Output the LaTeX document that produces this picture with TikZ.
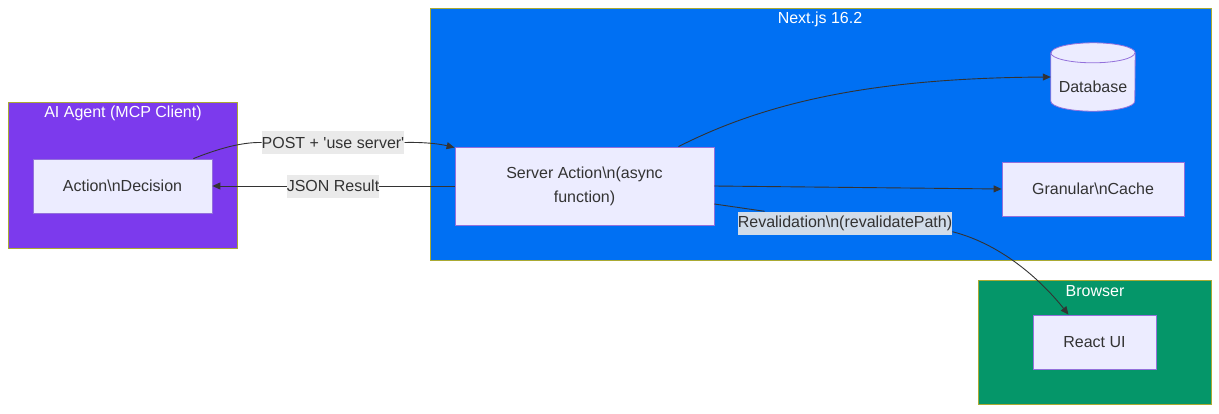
\documentclass[tikz,border=0pt]{standalone}
\usepackage{fontspec}
\setmainfont{Liberation Sans}
\usetikzlibrary{arrows.meta}
\definecolor{agentbg}{HTML}{7C3AED}
\definecolor{nextbg}{HTML}{0070F3}
\definecolor{browserbg}{HTML}{059669}
\definecolor{clborder}{HTML}{AAAA33}
\definecolor{nodebg}{HTML}{ECECFF}
\definecolor{nodeline}{HTML}{9370DB}
\definecolor{ink}{HTML}{333333}
\definecolor{lblbg}{HTML}{E8E8E8}
\begin{document}
\begin{tikzpicture}[x=1pt,y=-1pt,
  every node/.style={font=\fontsize{16}{24}\selectfont,text=ink},
  cluster/.style={draw=clborder,line width=0.8pt,inner sep=0pt},
  box/.style={draw=nodeline,fill=nodebg,line width=0.8pt,inner sep=0pt,align=center},
  cyl/.style={draw=nodeline,fill=nodebg,line width=0.8pt},
  link/.style={draw=ink,line width=0.9pt},
  edge/.style={link,-{Triangle[length=8pt,width=7pt]}},
  lbl/.style={fill=lblbg,fill opacity=0.9,text opacity=1,inner sep=0pt,minimum height=23pt,align=center},
  title/.style={text=white}]
  \useasboundingbox (0,0) rectangle (1219,413);
  \node[cluster,fill=agentbg,minimum width=229pt,minimum height=146pt] (agent) at (122.5,175) {};
  \node[cluster,fill=nextbg,minimum width=781pt,minimum height=252pt] (next) at (820.5,134) {};
  \node[cluster,fill=browserbg,minimum width=233pt,minimum height=124pt] (browser) at (1094.5,342) {};
  \node[title] at (123,113) {AI Agent (MCP Client)};
  \node[title] at (820,19) {Next.js 16.2};
  \node[title] at (1095,291) {Browser};
  \node[box,minimum width=179pt,minimum height=54pt] (act) at (122.5,186) {Action\textbackslash nDecision};
  \node[box,minimum width=259pt,minimum height=78pt] (srv) at (584.5,186) {Server Action\textbackslash n(async\\function)};
  \node[inner sep=0pt,minimum width=84pt,minimum height=68pt] (db) at (1093,77) {};
  \draw[cyl] ([yshift=-10pt]db.north west) -- ([yshift=10pt]db.south west)
    arc[start angle=180,end angle=360,x radius=42pt,y radius=10pt]
    -- ([yshift=-10pt]db.north east)
    arc[start angle=0,end angle=180,x radius=42pt,y radius=10pt] -- cycle;
  \draw[cyl,fill=none] ([yshift=-10pt]db.north west) arc[start angle=180,end angle=360,x radius=42pt,y radius=10pt];
  \node at ([yshift=-10pt]db.center) {Database};
  \node[box,minimum width=182pt,minimum height=54pt] (cache) at (1093,189) {Granular\textbackslash nCache};
  \node[box,minimum width=123pt,minimum height=54pt] (ui) at (1094.5,342) {React UI};
  \node[lbl] (postlbl) at (333,142.5) {POST + \textquotesingle use server\textquotesingle};
  \node[lbl] (jsonlbl) at (333,186) {JSON Result};
  \node[lbl,minimum width=214pt] (revlbl) at (845,223) {Revalidation\textbackslash n(revalidatePath)};
  \draw[link] ([xshift=-19pt]act.north east) .. controls (215,150) and (240,142) .. (postlbl.west);
  \draw[edge] (postlbl.east) .. controls (425,142) and (440,144) .. ([yshift=-1pt]srv.north west);
  \draw[link] (srv.west) -- (jsonlbl.east);
  \draw[edge] (jsonlbl.west) -- (act.east);
  \draw[edge] ([xshift=94pt]srv.north) .. controls (770,100) and (880,78) .. (db.west);
  \draw[edge] (srv.east) -- (cache.west);
  \draw[link] ([yshift=-18pt]srv.east) -- (revlbl);
  \draw[edge] ([yshift=3pt]revlbl.south east) .. controls (1005,245) and (1045,285) .. ([xshift=-26pt]ui.north);
\end{tikzpicture}
\end{document}
